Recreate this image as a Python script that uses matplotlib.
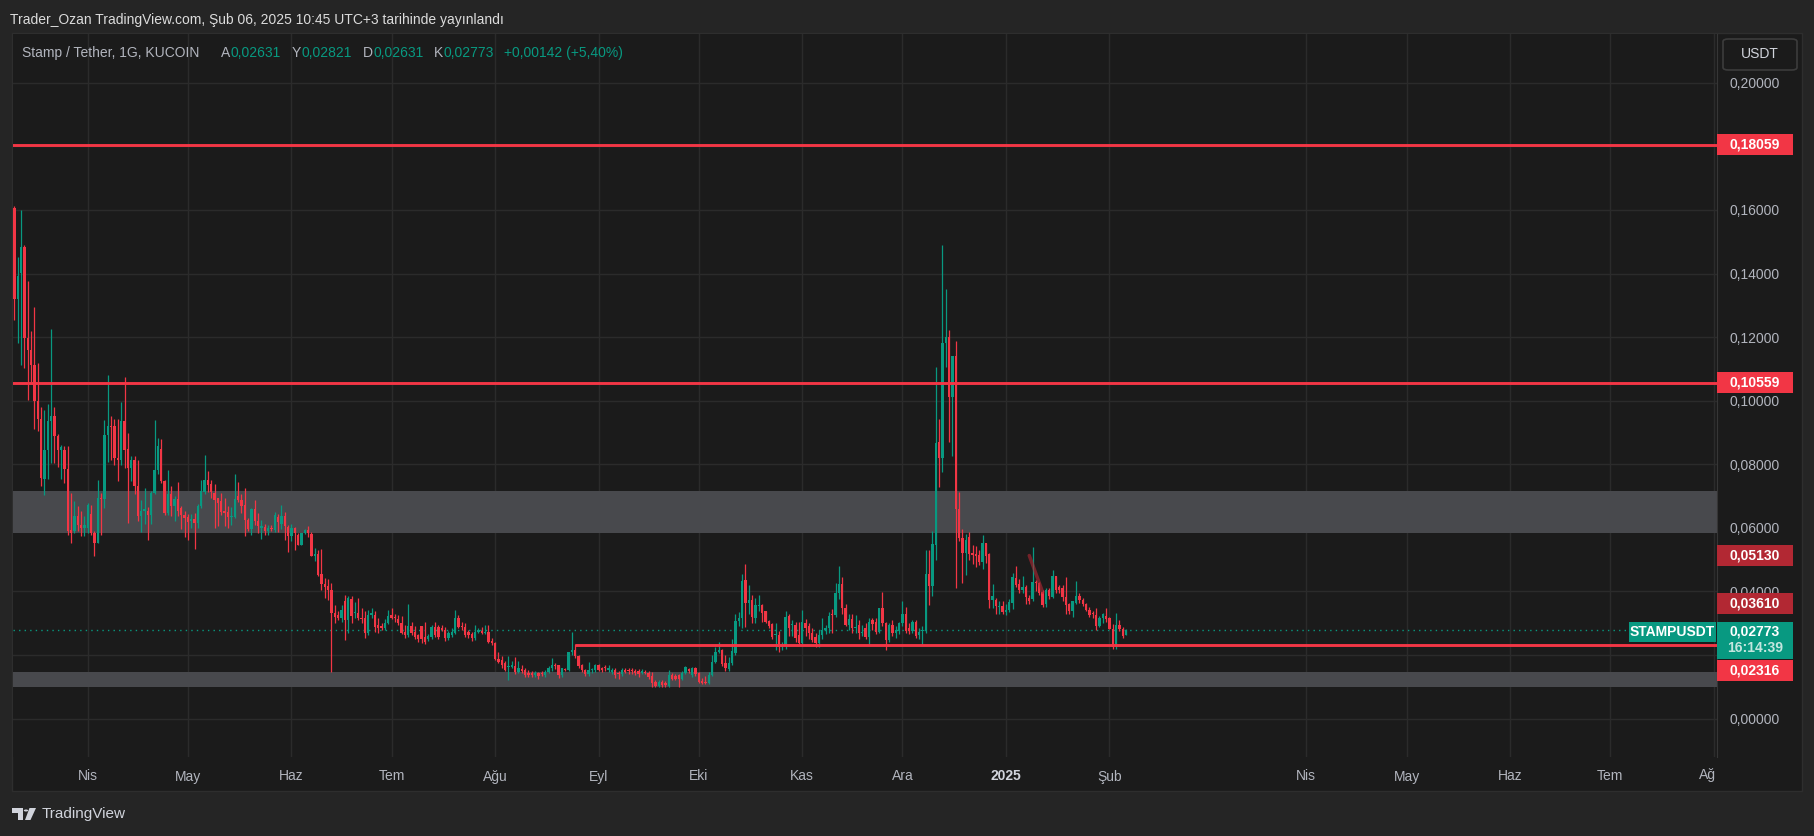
import numpy as np
import matplotlib
matplotlib.use("Agg")
import matplotlib.pyplot as plt
import matplotlib.dates as mdates
from matplotlib.patches import Rectangle, Polygon, Circle, FancyBboxPatch
from matplotlib.ticker import FuncFormatter

plt.rcParams['font.family'] = ['Liberation Sans', 'DejaVu Sans']

W, H = 1815, 836
BG_OUT = '#252525'
BG = '#1b1b1b'
GRID = '#2b2b2b'
TXT = '#b2b5be'
GREEN = '#089981'
RED = '#f23645'
DARKRED = '#b22833'
ZONE = '#48494d'

# daily candles STAMP/USDT, prices in 1e-4 USDT, last candle = 2025-02-06
last_day = '2025-02-06'

opens = [
    1605, 1319, 1403, 1483, 1197, 1160, 1113, 1000, 942, 754,
    844, 935, 953, 890, 844, 844, 785, 592, 589, 636,
    610, 600, 600, 644, 584, 553, 694, 691, 893, 922,
    921, 820, 812, 935, 848, 788, 815, 731, 637, 653,
    652, 639, 710, 783, 848, 747, 647, 705, 670, 691,
    661, 640, 634, 621, 628, 616, 670, 712, 752, 739,
    710, 694, 684, 652, 649, 634, 634, 699, 687, 673,
    626, 595, 660, 621, 600, 603, 589, 600, 592, 634,
    612, 636, 603, 574, 600, 576, 545, 585, 593, 581,
    512, 518,
    455, 422, 417, 404, 333, 326, 315, 369, 310, 375,
    333, 331, 317, 315, 270, 326, 326, 294, 290, 286,
    302, 326, 320, 312, 302, 273, 263, 291, 273, 263,
    290, 257, 251, 257, 289, 289, 284, 278, 252, 263,
    270, 315, 289, 289, 273, 266, 252, 273, 276, 270,
    273, 245, 237, 189, 184, 174, 163, 163, 165, 147,
    156, 153, 144, 142, 137, 142, 144, 137, 147, 158,
    168, 168, 137, 156, 154, 210, 216, 197, 168, 152,
    139, 152, 154, 168, 158, 163, 154, 147, 154, 144,
    140, 154, 154, 154, 149, 151, 144, 147, 144, 134,
    116, 102, 116, 113, 103, 137, 135, 137, 126, 144,
    156, 137, 158, 142,
    119, 116, 113, 138, 179, 210, 216, 174, 156, 174,
    207, 307, 316, 436, 365, 373, 317, 354, 357, 337,
    307, 297, 262, 263, 224, 228, 323, 294, 294, 263,
    237, 300, 291, 268, 257, 238, 263, 279, 284, 329,
    326, 394, 423, 347, 295, 312, 284, 293, 268, 284,
    257, 310, 305, 273, 347, 300, 247, 294, 270, 274,
    300, 329, 284, 277, 305, 263, 276, 279, 455, 417,
    546, 870, 821, 1180, 1199, 1012, 1140, 658, 567, 520,
    572, 520, 517, 515, 494, 553, 517, 373, 373, 352,
    354, 336, 343, 364, 441, 423, 406, 413, 380, 375,
    430, 425, 399, 362, 404, 384, 448, 413, 410, 383,
    360, 337, 365, 385, 373, 362, 343, 331, 326, 291,
    315, 323, 315, 282, 224, 296, 281, 263.1,
]

highs = [
    1613, 1451, 1600, 1490, 1377, 1220, 1296, 1120, 980, 972,
    990, 1226, 980, 895, 862, 857, 857, 711, 686, 668,
    652, 637, 678, 673, 590, 752, 710, 940, 1082, 952,
    942, 942, 995, 1076, 898, 827, 827, 815, 689, 726,
    667, 715, 940, 883, 880, 752, 781, 733, 700, 743,
    670, 654, 644, 644, 647, 675, 752, 830, 778, 752,
    737, 694, 710, 694, 670, 665, 771, 743, 708, 726,
    632, 663, 689, 647, 624, 611, 610, 610, 651, 644,
    673, 649, 608, 611, 603, 585, 585, 597, 606, 587,
    536, 530,
    532, 441, 438, 426, 357, 340, 357, 388, 385, 385,
    368, 378, 347, 340, 342, 347, 337, 315, 300, 312,
    341, 347, 330, 326, 323, 294, 360, 305, 291, 266,
    291, 305, 266, 294, 305, 294, 294, 289, 275, 284,
    342, 326, 305, 300, 280, 273, 294, 284, 287, 294,
    294, 252, 241, 208, 197, 180, 197, 180, 195, 180,
    170, 160, 152, 150, 150, 147, 150, 152, 165, 190,
    175, 170, 160, 160, 211, 273, 235, 200, 172, 155,
    178, 160, 173, 172, 163, 168, 168, 160, 158, 150,
    158, 158, 160, 160, 155, 156, 156, 152, 150, 147,
    120, 120, 120, 118, 153, 145, 140, 140, 150, 165,
    160, 163, 163, 146,
    129, 133, 147, 200, 224, 241, 220, 200, 195, 250,
    330, 334, 455, 486, 420, 390, 380, 390, 360, 340,
    310, 300, 300, 277, 240, 337, 330, 310, 305, 305,
    341, 313, 300, 285, 270, 280, 315, 295, 335, 345,
    425, 480, 446, 360, 330, 330, 325, 310, 295, 300,
    315, 318, 315, 347, 399, 305, 300, 310, 290, 305,
    370, 350, 300, 310, 310, 285, 292, 530, 530, 590,
    1107, 944, 1490, 1350, 1224, 1140, 1188, 714, 595, 581,
    588, 545, 542, 530, 577, 553, 520, 423, 380, 370,
    370, 360, 375, 459, 480, 440, 450, 420, 390, 541,
    435, 430, 405, 410, 410, 467, 450, 420, 420, 444,
    365, 371, 432, 395, 380, 365, 350, 340, 349, 322,
    331, 349, 320, 297, 331, 310, 288, 282.1,
]

lows = [
    1254, 1181, 1111, 1103, 1001, 1060, 911, 904, 731, 704,
    754, 804, 804, 792, 754, 741, 579, 553, 584, 589,
    573, 573, 584, 579, 511, 551, 579, 662, 806, 814,
    798, 749, 798, 788, 616, 749, 705, 621, 587, 611,
    563, 611, 705, 770, 740, 642, 642, 637, 621, 637,
    595, 572, 561, 600, 534, 600, 664, 705, 712, 694,
    600, 605, 640, 605, 600, 610, 630, 680, 648, 573,
    590, 577, 610, 585, 566, 577, 579, 590, 587, 587,
    597, 563, 524, 558, 529, 545, 545, 580, 571, 513,
    495, 450,
    404, 378, 373, 148, 301, 310, 305, 247, 270, 300,
    318, 310, 300, 253, 262, 318, 273, 270, 278, 280,
    298, 312, 305, 295, 265, 253, 258, 262, 250, 240,
    237, 235, 245, 250, 258, 250, 275, 245, 247, 258,
    265, 284, 280, 258, 255, 245, 248, 268, 265, 265,
    238, 232, 183, 175, 160, 150, 121, 158, 140, 142,
    145, 132, 132, 132, 130, 126, 135, 130, 142, 150,
    155, 128, 132, 150, 150, 200, 190, 160, 148, 135,
    135, 145, 148, 150, 148, 150, 148, 140, 128, 126,
    135, 142, 140, 140, 138, 132, 140, 140, 126, 99,
    100, 99, 100, 100, 100, 120, 120, 100, 120, 140,
    145, 132, 135, 112,
    110, 110, 110, 135, 175, 205, 165, 150, 150, 170,
    200, 290, 284, 289, 330, 300, 300, 340, 305, 300,
    285, 250, 215, 210, 215, 220, 260, 260, 240, 235,
    232, 260, 250, 240, 225, 225, 250, 265, 270, 270,
    320, 375, 330, 290, 280, 270, 270, 250, 260, 250,
    230, 280, 265, 268, 290, 216, 240, 260, 255, 265,
    290, 270, 265, 270, 255, 250, 230, 270, 357, 385,
    499, 729, 777, 1105, 871, 826, 412, 560, 425, 452,
    500, 485, 478, 483, 472, 490, 347, 347, 329, 330,
    329, 326, 335, 346, 415, 395, 395, 361, 360, 370,
    400, 390, 352, 350, 375, 380, 395, 395, 370, 330,
    330, 320, 360, 365, 355, 340, 320, 315, 280, 288,
    300, 305, 282, 219, 219, 275, 255, 263.1,
]

closes = [
    1319, 1393, 1483, 1197, 1158, 1111, 1000, 942, 757, 844,
    937, 953, 888, 844, 853, 785, 589, 584, 636, 610,
    600, 610, 673, 584, 553, 694, 692, 893, 921, 918,
    820, 812, 935, 846, 788, 815, 731, 637, 652, 658,
    639, 710, 783, 857, 747, 647, 705, 670, 691, 654,
    642, 631, 620, 628, 616, 670, 717, 752, 736, 712,
    687, 679, 649, 647, 634, 636, 691, 687, 670, 626,
    595, 660, 621, 605, 605, 589, 599, 598, 641, 618,
    636, 605, 574, 600, 585, 545, 585, 593, 584, 513,
    517, 453,
    422, 415, 404, 333, 320, 315, 341, 310, 378, 323,
    336, 315, 312, 270, 326, 333, 289, 286, 286, 302,
    323, 315, 315, 302, 270, 263, 291, 270, 258, 249,
    249, 242, 260, 289, 263, 257, 278, 252, 268, 273,
    315, 289, 287, 263, 263, 252, 273, 278, 270, 273,
    242, 237, 186, 179, 168, 153, 165, 168, 147, 158,
    150, 137, 137, 137, 144, 134, 139, 147, 158, 168,
    165, 137, 158, 154, 210, 216, 197, 165, 152, 139,
    152, 154, 168, 154, 154, 158, 158, 154, 137, 140,
    154, 147, 149, 149, 144, 140, 151, 142, 131, 113,
    103, 116, 105, 105, 137, 123, 126, 123, 144, 161,
    150, 158, 140, 116,
    113, 113, 138, 179, 210, 216, 172, 158, 174, 212,
    307, 316, 434, 365, 373, 319, 357, 357, 333, 305,
    292, 257, 263, 224, 231, 321, 284, 295, 255, 237,
    305, 284, 268, 247, 238, 263, 279, 284, 323, 326,
    394, 423, 347, 295, 312, 284, 288, 268, 272, 257,
    305, 297, 273, 347, 300, 247, 294, 270, 279, 300,
    329, 277, 277, 305, 260, 273, 279, 455, 417, 549,
    866, 821, 1180, 1199, 1012, 1140, 658, 567, 520, 562,
    517, 515, 513, 494, 553, 511, 373, 385, 354, 354,
    336, 343, 367, 446, 420, 406, 413, 384, 371, 430,
    427, 396, 357, 404, 386, 448, 404, 406, 381, 357,
    339, 371, 385, 373, 362, 343, 326, 328, 291, 315,
    329, 312, 282, 224, 294, 281, 259, 277.3,
]

# drawings on the chart
levels = [0.18059, 0.10559]
support = 0.02316
support_from = '2024-08-25'
zones = [(0.0583, 0.0717), (0.01004, 0.01466)]
trend_days = ['2025-01-08', '2025-01-12']
trend_prices = [0.0513, 0.0398]
last_price = 0.02773

price_ticks = [0.0, 0.02, 0.04, 0.06, 0.08, 0.10, 0.12, 0.14, 0.16, 0.18, 0.20]
hidden_ticks = [0.02, 0.18]   # covered by the price tags in the screenshot

month_days = ['2024-04-01', '2024-05-01', '2024-06-01', '2024-07-01', '2024-08-01',
              '2024-09-01', '2024-10-01', '2024-11-01', '2024-12-01', '2025-01-01',
              '2025-02-01', '2025-04-01', '2025-05-01', '2025-06-01', '2025-07-01']
month_labels = ['Nis', 'May', 'Haz', 'Tem', 'Ağu', 'Eyl', 'Eki', 'Kas', 'Ara', '2025',
                'Şub', 'Nis', 'May', 'Haz', 'Tem']

o = np.array(opens) / 1e4
h = np.array(highs) / 1e4
l = np.array(lows) / 1e4
c = np.array(closes) / 1e4
days = np.datetime64(last_day) - np.arange(len(c))[::-1]
x = mdates.date2num(days)


def fx(px):
    return px / W


def fy(py):
    return 1 - py / H


def price_fmt(v, pos):
    if any(abs(v - t) < 1e-9 for t in hidden_ticks):
        return ''
    return f"{v:.5f}".replace('.', ',')


fig = plt.figure(figsize=(W / 100, H / 100), dpi=100, facecolor=BG_OUT)
fig.patches.append(Rectangle((fx(12), fy(791)), fx(1802 - 12), (791 - 33) / H,
                             transform=fig.transFigure, facecolor=BG,
                             edgecolor='#2e2e2e', lw=1, zorder=-5))

ax = fig.add_axes([fx(13), fy(757), fx(1717 - 13), (757 - 34) / H])
ax.set_facecolor(BG)

for lo, hi in zones:
    ax.axhspan(lo, hi, color=ZONE, lw=0, zorder=1)

up = c >= o
col = np.where(up, GREEN, RED)
ax.vlines(x, l, h, colors=col, lw=0.9, zorder=3)
ax.bar(x, np.maximum(np.abs(c - o), 0.0003), bottom=np.minimum(o, c), width=0.7,
       color=col, lw=0, zorder=3)

for lev in levels:
    ax.axhline(lev, color=RED, lw=2.1, zorder=4)
xmax = mdates.date2num(np.datetime64('2025-08-02'))
ax.hlines(support, mdates.date2num(np.datetime64(support_from)), xmax,
          color=RED, lw=2.1, zorder=4)
ax.plot(mdates.date2num(np.array(trend_days, dtype='datetime64[D]')), trend_prices,
        color=DARKRED, lw=2.5, alpha=0.6, zorder=4, solid_capstyle='round')
ax.axhline(last_price, color=GREEN, lw=1, ls=(0, (1, 3)), zorder=2)

ax.set_xlim(x[0] - 0.4, xmax)
ax.set_ylim(-0.01208, 0.21536)

ax.set_yticks(price_ticks)
ax.yaxis.set_major_formatter(FuncFormatter(price_fmt))
ax.yaxis.tick_right()
ax.tick_params(axis='y', length=0, pad=9, labelsize=10, labelcolor=TXT)

ax.set_xticks(mdates.date2num(np.array(month_days, dtype='datetime64[D]')))
ax.set_xticklabels(month_labels)
ax.tick_params(axis='x', length=0, pad=9, labelsize=10, labelcolor=TXT)
for lbl in ax.get_xticklabels():
    if lbl.get_text() == '2025':
        lbl.set_fontweight('bold')
        lbl.set_color('#d1d4dc')

ax.grid(True, color=GRID, lw=1, zorder=0)
ax.axvline(mdates.date2num(np.datetime64('2025-08-01')), color=GRID, lw=1, zorder=0)
ax.set_axisbelow(True)
for side in ['top', 'bottom', 'left']:
    ax.spines[side].set_visible(False)
ax.spines['right'].set_color('#363636')

ax.annotate('Ağ', xy=(1, 0), xycoords='axes fraction', xytext=(-1, -18),
            textcoords='offset pixels', ha='right', va='center', fontsize=10, color=TXT)


def tag(price, text, face, shift=0, x0=1717, width=76, height=21, sub=None):
    yc = H - ax.transData.transform((0, price))[1] + shift
    if sub is None:
        top = yc - height / 2
    else:
        top = yc - 8.5
        height = 37
    fig.patches.append(Rectangle((fx(x0), fy(top + height)), width / W, height / H,
                                 transform=fig.transFigure, facecolor=face, lw=0, zorder=5))
    ty = yc if sub is None else top + 9.5
    fig.text(fx(x0 + width / 2), fy(ty), text, ha='center', va='center', fontsize=10,
             fontweight='bold', color='white', zorder=6)
    if sub is not None:
        fig.text(fx(x0 + width / 2), fy(top + 26.5), sub, ha='center', va='center',
                 fontsize=10, fontweight='bold', color='#c4e6df', zorder=6)


tag(levels[0], '0,18059', RED)
tag(levels[1], '0,10559', RED)
tag(trend_prices[0], '0,05130', DARKRED)
tag(0.0361, '0,03610', DARKRED)
tag(support, '0,02316', RED, shift=26)
tag(last_price, '0,02773', GREEN, sub='16:14:39')
tag(last_price, 'STAMPUSDT', GREEN, shift=1.5, x0=1629, width=87, height=20)

# currency box on top of price scale
fig.patches.append(FancyBboxPatch((fx(1723), fy(70)), fx(74), 31 / H,
                                  boxstyle='round,pad=0,rounding_size=0.003',
                                  transform=fig.transFigure, facecolor=BG,
                                  edgecolor='#3c3c3c', lw=1.2, zorder=5))
fig.text(fx(1760), fy(54.5), 'USDT', ha='center', va='center', fontsize=10,
         color='#d1d4dc', zorder=6)

fig.text(fx(10), fy(20), 'Trader_Ozan TradingView.com, Şub 06, 2025 10:45 UTC+3 tarihinde yayınlandı',
         ha='left', va='center', fontsize=10, color='#dcdcdc')

# legend line with OHLC values
renderer = fig.canvas.get_renderer()
fig.text(fx(22), fy(53), 'Stamp / Tether, 1G, KUCOIN', ha='left', va='center',
         fontsize=10, color=TXT)
groups = [(221, 'A', '0,02631'), (292, 'Y', '0,02821'), (363, 'D', '0,02631'),
          (434, 'K', '0,02773'), (503.6, '', '+0,00142 (+5,40%)')]
for gx, letter, val in groups:
    xpos = fx(gx)
    if letter:
        t = fig.text(xpos, fy(53), letter, ha='left', va='center', fontsize=10, color=TXT)
        xpos = t.get_window_extent(renderer).x1 / W
    fig.text(xpos, fy(53), val, ha='left', va='center', fontsize=10, color=GREEN)

# TradingView logo
fig.patches.append(Polygon([(fx(12.5), fy(808)), (fx(23.2), fy(808)), (fx(23.2), fy(820)),
                            (fx(17.9), fy(820)), (fx(17.9), fy(812.5)), (fx(12.5), fy(812.5))],
                           closed=True, transform=fig.transFigure, facecolor='#d1d4dc', lw=0))
fig.patches.append(Circle((fx(26), fy(810.5)), 2.2 / W, transform=fig.transFigure,
                          facecolor='#d1d4dc', lw=0))
fig.patches.append(Polygon([(fx(29.5), fy(808)), (fx(36), fy(808)), (fx(30.5), fy(820)),
                            (fx(25), fy(820))], closed=True, transform=fig.transFigure,
                           facecolor='#d1d4dc', lw=0))
fig.text(fx(42), fy(814), 'TradingView', ha='left', va='center', fontsize=11,
         color='#d1d4dc')

fig.savefig('out.png', dpi=100, facecolor=BG_OUT)
